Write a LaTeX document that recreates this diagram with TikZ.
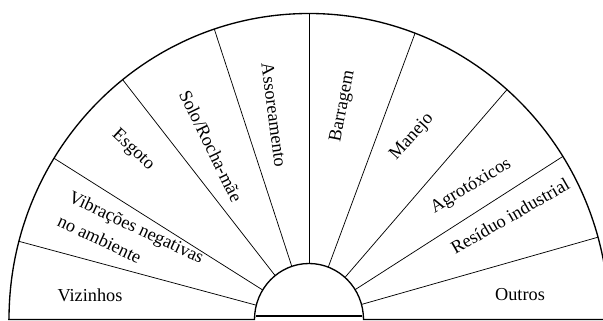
\documentclass[tikz,border=0pt]{standalone}
\usepackage{fontspec}
\setmainfont{Liberation Serif}

\begin{document}
\begin{tikzpicture}[x=0.75pt,y=0.75pt,font=\fontsize{13.7}{20}\selectfont,
  rim/.style={line width=1pt},
  spoke/.style={line width=0.55pt},
  sectortext/.style={inner sep=0pt,align=left}]
\clip (0,0) rectangle (603,321);
\coordinate (c) at (309,1.5);
% rim, base line and inner half disc
\draw[rim] (9,1.5) arc[start angle=180,end angle=0,x radius=300,y radius=306];
\draw[rim] (8,1.5) -- (254.5,1.5) arc[start angle=180,end angle=0,x radius=54.5,y radius=56] -- (603,1.5);
\draw[rim] (256,5) -- (362,5);
\foreach \a in {15.6,32.2,48.7,69.3,90,108.4,128.4,148.2,165.2}
  \draw[spoke] ([shift={(\a:54.5 and 56)}]c) -- ([shift={(\a:300 and 306)}]c);
% sector texts
\node[sectortext] (vizinhos) at (90,26) {Vizinhos};
\node[sectortext,rotate=-25] (vibracoes) at (131,82) {Vibrações negativas\\no ambiente};
\node[sectortext,rotate=-43] (esgoto) at (133,171) {Esgoto};
\node[sectortext,rotate=-64] (solo) at (211,175) {Solo/Rocha-mãe};
\node[sectortext,rotate=-82.5] (assoreamento) at (274,206) {Assoreamento};
\node[sectortext,rotate=79] (barragem) at (343,215) {Barragem};
\node[sectortext,rotate=48] (manejo) at (412,184) {Manejo};
\node[sectortext,rotate=31] (agrotoxicos) at (471,135) {Agrotóxicos};
\node[sectortext,rotate=30] (residuo) at (510,105) {Resíduo industrial};
\node[sectortext] (outros) at (520,26) {Outros};
\end{tikzpicture}
\end{document}
